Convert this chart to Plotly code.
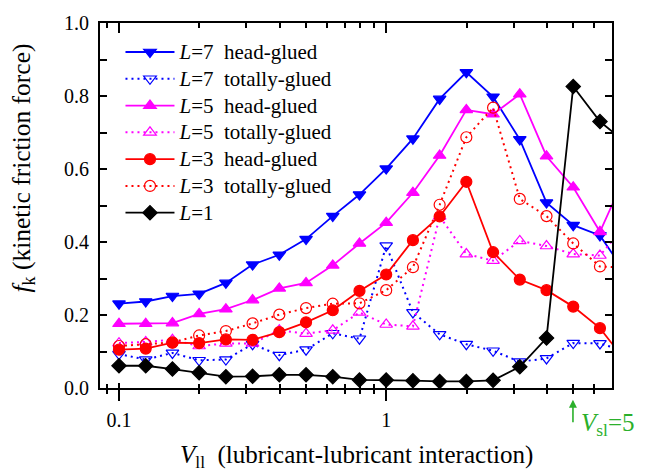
import plotly.graph_objects as go
import math

# ---- data ----
v_ll = [0.1, 0.1259, 0.1585, 0.1995, 0.2512, 0.3162, 0.3981, 0.5012, 0.631, 0.7943,
        1.0, 1.259, 1.585, 1.995, 2.512, 3.162, 3.981, 5.012, 6.31, 7.943]

l7_head = [0.231, 0.237, 0.252, 0.258, 0.288, 0.338, 0.365, 0.408, 0.471, 0.530,
           0.601, 0.683, 0.792, 0.865, 0.798, 0.681, 0.508, 0.446, 0.418, 0.31]
l7_total = [0.093, 0.078, 0.096, 0.076, 0.078, 0.120, 0.090, 0.105, 0.150, 0.135,
            0.390, 0.207, 0.147, 0.120, 0.102, 0.072, 0.081, 0.123, 0.122, 0.10]
l5_head = [0.176, 0.176, 0.178, 0.203, 0.216, 0.241, 0.273, 0.288, 0.336, 0.396,
           0.453, 0.535, 0.637, 0.762, 0.750, 0.805, 0.635, 0.550, 0.428, 0.59]
l5_total = [0.123, 0.126, 0.132, 0.115, 0.122, 0.122, 0.158, 0.149, 0.158, 0.207,
            0.174, 0.169, 0.470, 0.367, 0.349, 0.403, 0.389, 0.367, 0.363, 0.45]
l3_head = [0.105, 0.108, 0.124, 0.123, 0.133, 0.132, 0.153, 0.180, 0.213, 0.266,
           0.311, 0.405, 0.470, 0.565, 0.372, 0.297, 0.268, 0.223, 0.164, 0.07]
l3_total = [0.115, 0.120, 0.125, 0.144, 0.156, 0.177, 0.201, 0.219, 0.231, 0.232,
            0.268, 0.331, 0.502, 0.687, 0.768, 0.518, 0.471, 0.396, 0.333, 0.33]
l1 = [0.061, 0.061, 0.052, 0.042, 0.031, 0.032, 0.036, 0.036, 0.031, 0.022,
      0.022, 0.020, 0.018, 0.018, 0.021, 0.058, 0.137, 0.826, 0.730, 0.67]

x_major = [0.1, 1]
x_major_text = ["0.1", "1"]
x_minor = [0.09, 0.2, 0.3, 0.4, 0.5, 0.6, 0.7, 0.8, 0.9, 2, 3, 4, 5, 6]
y_major = [0.0, 0.2, 0.4, 0.6, 0.8, 1.0]
y_minor = [0.1, 0.3, 0.5, 0.7, 0.9]
v_sl = 5

FONT = "Liberation Serif"
BLUE, MAG, RED, BLK, GRN = "#0000FF", "#FF00FF", "#FF0000", "#000000", "#2BB02B"
DOT = "2px,4px"


def lg(lbl, desc):
    txt = "<i>L</i>=" + lbl + ("\u00a0\u00a0" + desc if desc else "")
    return '<span style="font-size:21px">' + txt + "</span>"


series = [
    (lg("7", "head-glued"), l7_head, BLUE, "solid", "triangle-down"),
    (lg("7", "totally-glued"), l7_total, BLUE, DOT, "triangle-down-open"),
    (lg("5", "head-glued"), l5_head, MAG, "solid", "triangle-up"),
    (lg("5", "totally-glued"), l5_total, MAG, DOT, "triangle-up-open"),
    (lg("3", "head-glued"), l3_head, RED, "solid", "circle"),
    (lg("3", "totally-glued"), l3_total, RED, DOT, "circle-open"),
    (lg("1", ""), l1, BLK, "solid", "diamond"),
]

fig = go.Figure()
for name, ys, col, dash, sym in series:
    fig.add_trace(go.Scatter(
        x=v_ll, y=ys, name=name, mode="lines+markers",
        line=dict(color=col, width=1.8 if dash == "solid" else 2, dash=dash),
        marker=dict(symbol=sym, size=11, color=col, line=dict(color=col, width=1.2)),
    ))

xr = [math.log10(0.0849), math.log10(7.0)]
tickfont = dict(family=FONT, size=20, color="black")

fig.update_layout(
    width=645, height=472,
    margin=dict(l=100, r=33, t=18, b=84),
    paper_bgcolor="white", plot_bgcolor="white",
    font=dict(family=FONT, color="black"),
    showlegend=True,
    legend=dict(x=0.04, y=0.971, xanchor="left", yanchor="top",
                bgcolor="rgba(0,0,0,0)", font=dict(family=FONT, size=18.3),
                itemwidth=49, tracegroupgap=0),
    xaxis=dict(type="log", range=xr, tickmode="array", tickvals=x_major, ticktext=x_major_text,
               ticks="outside", ticklen=11, tickwidth=2, tickcolor="black",
               ticklabelstandoff=2,
               minor=dict(tickmode="array", tickvals=x_minor, ticks="outside", ticklen=4,
                          tickwidth=2, tickcolor="black", showgrid=False),
               showline=True, linewidth=2, linecolor="black", showgrid=False, zeroline=False,
               tickfont=tickfont, anchor="y"),
    xaxis2=dict(type="log", range=xr, overlaying="x", side="bottom", anchor="y",
                tickmode="array", tickvals=x_major, ticks="inside", ticklen=5, tickwidth=2,
                tickcolor="black", showticklabels=False, showline=False, showgrid=False,
                zeroline=False,
                minor=dict(tickmode="array", tickvals=x_minor, ticks="inside", ticklen=4,
                           tickwidth=2, tickcolor="black", showgrid=False)),
    xaxis3=dict(type="log", range=xr, overlaying="x", side="top", anchor="y",
                tickmode="array", tickvals=x_major, ticks="inside", ticklen=10, tickwidth=2,
                tickcolor="black", showticklabels=False, showline=True, linewidth=2,
                linecolor="black", showgrid=False, zeroline=False,
                minor=dict(tickmode="array", tickvals=x_minor, ticks="inside", ticklen=5,
                           tickwidth=2, tickcolor="black", showgrid=False)),
    yaxis=dict(range=[0, 1], tickmode="array", tickvals=y_major,
               ticktext=[f"{v:.1f}" for v in y_major],
               ticks="inside", ticklen=7, tickwidth=2, tickcolor="black",
               ticklabelstandoff=5,
               minor=dict(tickmode="array", tickvals=y_minor, ticks="inside", ticklen=7,
                          tickwidth=2, tickcolor="black", showgrid=False),
               showline=True, linewidth=2, linecolor="black", showgrid=False, zeroline=False,
               tickfont=tickfont),
    yaxis2=dict(range=[0, 1], overlaying="y", side="right", anchor="x",
                tickmode="array", tickvals=y_major, ticks="inside", ticklen=7, tickwidth=2,
                tickcolor="black", showticklabels=False, showline=True, linewidth=2,
                linecolor="black", showgrid=False, zeroline=False,
                minor=dict(tickmode="array", tickvals=y_minor, ticks="inside", ticklen=7,
                           tickwidth=2, tickcolor="black", showgrid=False)),
)

# invisible helper traces so that overlay axes are drawn
fig.add_trace(go.Scatter(x=[v_ll[0]], y=[None], xaxis="x2", yaxis="y", showlegend=False,
                         hoverinfo="skip", mode="markers", marker=dict(opacity=0)))
fig.add_trace(go.Scatter(x=[v_ll[0]], y=[None], xaxis="x3", yaxis="y", showlegend=False,
                         hoverinfo="skip", mode="markers", marker=dict(opacity=0)))
fig.add_trace(go.Scatter(x=[v_ll[0]], y=[None], xaxis="x", yaxis="y2", showlegend=False,
                         hoverinfo="skip", mode="markers", marker=dict(opacity=0)))

# axis titles
fig.add_annotation(text="<i>V</i><sub>ll</sub>\u00a0\u00a0(lubricant-lubricant interaction)",
                   xref="paper", yref="paper", x=0.5, y=-0.188, yanchor="middle",
                   showarrow=False, font=dict(family=FONT, size=25, color="black"))
fig.add_annotation(text="<i>f</i><sub>k</sub>\u00a0(kinetic friction force)",
                   xref="paper", yref="paper", x=-0.15, y=0.602, xanchor="center",
                   yanchor="middle", textangle=-90,
                   showarrow=False, font=dict(family=FONT, size=25.5, color="black"))

# V_sl marker
fig.add_annotation(x=math.log10(v_sl), y=-0.032, xref="x", yref="paper", text="",
                   showarrow=True, arrowhead=2, arrowsize=1, arrowwidth=1.6,
                   arrowcolor=GRN, ax=0, ay=24)
fig.add_annotation(text="<i>V</i><sub>sl</sub>=" + str(v_sl), x=math.log10(v_sl), y=-0.1,
                   xref="x", yref="paper", xanchor="left", yanchor="middle", xshift=6,
                   showarrow=False, font=dict(family=FONT, size=25, color=GRN))

fig.write_html("out.html", config={"displayModeBar": False},
               post_script="document.body.style.margin='0px';document.body.style.padding='0px';")
